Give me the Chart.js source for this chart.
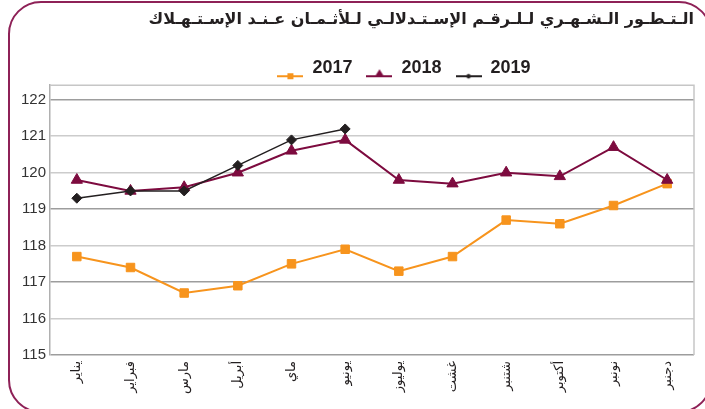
<!DOCTYPE html>
<html>
<head>
<meta charset="utf-8">
<script src="https://cdn.jsdelivr.net/npm/chart.js@4/dist/chart.umd.min.js"></script>
<style>
  html, body { margin: 0; padding: 0; background: #fff; overflow: hidden; }
  canvas { display: block; }
</style>
</head>
<body>
<canvas id="cpi-chart" width="705" height="409"></canvas>
<script>
// months (Moroccan names), as on the x axis
const months = ["يناير", "فبراير", "مارس", "أبريل", "ماي", "يونيو", "يوليوز", "غشت", "شتنبر", "أكتوبر", "نونبر", "دجنبر"];

const values_2017 = [117.7, 117.4, 116.7, 116.9, 117.5, 117.9, 117.3, 117.7, 118.7, 118.6, 119.1, 119.7];
const values_2018 = [119.8, 119.5, 119.6, 120.0, 120.6, 120.9, 119.8, 119.7, 120.0, 119.9, 120.7, 119.8];
const values_2019 = [119.3, 119.5, 119.5, 120.2, 120.9, 121.2, null, null, null, null, null, null];

const y_ticks = [115, 116, 117, 118, 119, 120, 121, 122];

const title_text = "الـتـطـور الـشـهـري لـلـرقـم الإسـتـدلالـي لـلأثـمـان عـنـد الإسـتـهـلاك";

const orange = "#F7941D";
const maroon = "#7D0B3F";
const black = "#231F20";

// small line + marker picture for each legend entry
function legendMarker(style, colour) {
    const c = document.createElement("canvas");
    c.width = 26;
    c.height = 24;
    const g = c.getContext("2d");
    g.strokeStyle = colour;
    g.fillStyle = colour;
    g.lineWidth = 2;
    g.beginPath();
    g.moveTo(0, 20);
    g.lineTo(26, 20);
    g.stroke();
    g.beginPath();
    if (style === "rect") {
        g.rect(10, 17, 6, 6);
    } else if (style === "triangle") {
        g.moveTo(13, 13);
        g.lineTo(18, 21);
        g.lineTo(8, 21);
    } else {
        g.moveTo(13, 17.5);
        g.lineTo(17, 20);
        g.lineTo(13, 22.5);
        g.lineTo(9, 20);
    }
    g.closePath();
    g.fill();
    return c;
}

const markers = [
    legendMarker("rect", orange),
    legendMarker("triangle", maroon),
    legendMarker("diamond", black)
];

// rounded outer frame, plot box lines, legend placement
const plotBox = {
    id: "plotBox",
    afterLayout(chart) {
        const lg = chart.legend;
        const dx = 404 - (lg.left + lg.right) / 2;
        lg.left += dx;
        lg.right += dx;
        lg.top += 2;
        lg.bottom += 2;
    },
    beforeDatasetsDraw(chart) {
        const { ctx, chartArea: a } = chart;
        ctx.save();
        ctx.strokeStyle = "#c6c6c6";
        ctx.lineWidth = 1.5;
        ctx.beginPath();
        ctx.moveTo(a.left, a.top);
        ctx.lineTo(a.right, a.top);
        ctx.lineTo(a.right, a.bottom);
        ctx.stroke();
        ctx.restore();
    },
    afterDraw(chart) {
        const ctx = chart.ctx;
        ctx.save();
        ctx.strokeStyle = "#8e2157";
        ctx.lineWidth = 2;
        ctx.beginPath();
        ctx.roundRect(9, 2, 702, 410, 32);
        ctx.stroke();
        ctx.restore();
    }
};

const line_data = {
    labels: months,
    datasets: [{
        label: "2017",
        data: values_2017,
        borderColor: orange,
        backgroundColor: orange,
        borderWidth: 2,
        pointStyle: "rect",
        pointRadius: 6,
        pointBorderWidth: 1,
        order: 2
    },
    {
        label: "2018",
        data: values_2018,
        borderColor: maroon,
        backgroundColor: maroon,
        borderWidth: 2,
        pointStyle: "triangle",
        pointRadius: 6.5,
        pointBorderWidth: 1,
        order: 1
    },
    {
        label: "2019",
        data: values_2019,
        borderColor: black,
        backgroundColor: black,
        borderWidth: 1.5,
        pointStyle: "rectRot",
        pointRadius: 5,
        pointBorderWidth: 1,
        order: 0
    }]
};

const config_line = {
    type: "line",
    data: line_data,
    options: {
        responsive: false,
        animation: false,
        layout: {
            padding: { top: 0, left: 8, right: 11, bottom: 0 }
        },
        plugins: {
            title: {
                display: true,
                text: title_text,
                align: "end",
                color: black,
                font: { family: "DejaVu Sans", size: 16, weight: "bold" },
                padding: { top: 10, bottom: 14 }
            },
            legend: {
                display: true,
                labels: {
                    usePointStyle: true,
                    pointStyleWidth: 26,
                    padding: 14,
                    color: black,
                    font: { family: "Liberation Sans", size: 18, weight: "bold" },
                    generateLabels: (chart) => chart.data.datasets.map((ds, i) => ({
                        text: ds.label,
                        pointStyle: markers[i],
                        fillStyle: ds.borderColor,
                        strokeStyle: ds.borderColor,
                        lineWidth: 0,
                        fontColor: black,
                        datasetIndex: i
                    }))
                }
            },
            tooltip: { enabled: false }
        },
        scales: {
            x: {
                offset: true,
                grid: { display: false, drawTicks: false },
                border: { display: false },
                ticks: {
                    minRotation: 90,
                    maxRotation: 90,
                    padding: 6,
                    color: black,
                    font: { family: "DejaVu Sans", size: 13 }
                },
                afterFit: (scale) => { scale.height = 54; }
            },
            y: {
                min: 115,
                max: 122.4,
                afterBuildTicks: (scale) => {
                    scale.ticks = y_ticks.map(v => ({ value: v }));
                },
                afterFit: (scale) => { scale.width = 42; },
                grid: {
                    drawTicks: false,
                    lineWidth: 1.5,
                    color: (ctx) => [122, 119, 117, 115].includes(ctx.tick.value) ? "#9d9d9d" : "#cccccc"
                },
                border: { display: true, color: "#b0b0b0", width: 1.5 },
                ticks: {
                    padding: 4,
                    color: "#333333",
                    font: { family: "Liberation Sans", size: 15 }
                }
            }
        }
    },
    plugins: [plotBox]
};

const ctx_line = document.getElementById("cpi-chart").getContext("2d");
const cpi_chart = new Chart(ctx_line, config_line);
</script>
</body>
</html>
